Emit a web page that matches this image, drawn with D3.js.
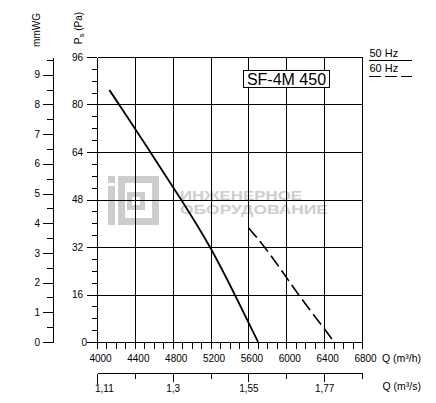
<!DOCTYPE html>
<html>
<head>
<meta charset="utf-8">
<script src="https://cdn.jsdelivr.net/npm/d3@7"></script>
<style>
  body { margin: 0; background: #fff; }
  text { font-family: "Liberation Sans", Arial, sans-serif; fill: #000; }
</style>
</head>
<body>
<script>
// ---- data ----
var flowTicks = [4000, 4400, 4800, 5200, 5600, 6000, 6400, 6800];   // m3/h
var flowMinor = d3.range(4000, 6801, 100);
var flowSecLabels = ["1,11", "", "1,3", "", "1,55", "", "1,77", ""]; // m3/s
var psTicks = [0, 16, 32, 48, 64, 80, 96];
var psMinor = d3.range(0, 97, 4);
var mmTicks = d3.range(0, 10, 1);
var mmMinor = d3.range(0.5, 9.6, 0.5);

var q50 = [4130, 4234, 4563, 4890, 5203, 5456, 5702];
var ps50 = [84.9, 80, 64, 48, 32, 16, 0];
var q60 = [5600, 5775, 5975, 6125, 6390, 6505];
var ps60 = [38.5, 32, 23, 16, 5, 0];

var title = "SF-4M 450";

var width = 436, height = 403;
var pLeft = 97, pRight = 362, pTop = 57, pBottom = 342;

var x = d3.scaleLinear().domain([4000, 6800]).range([pLeft, pRight]);
var y = d3.scaleLinear().domain([0, 96]).range([pBottom, pTop]);
var ymm = d3.scaleLinear().domain([0, 9.6]).range([pBottom, pTop]);

// snap to pixel centre for 1px lines
function px(v) { return Math.round(v) + 0.5; }

var svg = d3.select("body").append("svg")
    .attr("width", width)
    .attr("height", height);

svg.append("rect").attr("width", width).attr("height", height).attr("fill", "#fff");

// watermark logo
var wm = svg.append("g").attr("fill", "#cdcdcd");
wm.append("rect").attr("x", 108).attr("y", 176).attr("width", 7).attr("height", 7);
wm.append("rect").attr("x", 108).attr("y", 186).attr("width", 7).attr("height", 39);
wm.append("rect").attr("x", 121.5).attr("y", 179.5).attr("width", 34).attr("height", 42)
    .attr("fill", "none").attr("stroke", "#cdcdcd").attr("stroke-width", 7);
wm.append("rect").attr("x", 129.5).attr("y", 194.5).attr("width", 13).attr("height", 13)
    .attr("fill", "none").attr("stroke", "#cdcdcd").attr("stroke-width", 5);
wm.append("text").attr("x", 180).attr("y", 199.5)
    .attr("font-family", "DejaVu Sans").attr("font-weight", "bold").attr("font-size", 13.5)
    .attr("textLength", 122).attr("lengthAdjust", "spacingAndGlyphs")
    .style("fill", "#cdcdcd").text("ИНЖЕНЕРНОЕ");
wm.append("text").attr("x", 180).attr("y", 213.5)
    .attr("font-family", "DejaVu Sans").attr("font-weight", "bold").attr("font-size", 13.5)
    .attr("textLength", 148).attr("lengthAdjust", "spacingAndGlyphs")
    .style("fill", "#cdcdcd").text("ОБОРУДОВАНИЕ");

// grid
var grid = svg.append("g").attr("stroke", "#000").attr("stroke-width", 1).attr("shape-rendering", "crispEdges");
grid.selectAll(".vg").data(flowTicks).enter().append("line")
    .attr("x1", function(d) { return px(x(d)); }).attr("x2", function(d) { return px(x(d)); })
    .attr("y1", px(pTop)).attr("y2", px(pBottom));
grid.selectAll(".hg").data(psTicks).enter().append("line")
    .attr("x1", px(pLeft)).attr("x2", px(pRight))
    .attr("y1", function(d) { return px(y(d)); }).attr("y2", function(d) { return px(y(d)); });

// Ps axis (ticks outside, pointing left)
var psAxis = svg.append("g").attr("stroke", "#000").attr("shape-rendering", "crispEdges");
psAxis.selectAll(".mn").data(psMinor).enter().append("line")
    .attr("x1", pLeft - 5).attr("x2", pLeft)
    .attr("y1", function(d) { return px(y(d)); }).attr("y2", function(d) { return px(y(d)); });
psAxis.selectAll(".mj").data(psTicks).enter().append("line")
    .attr("x1", pLeft - 10).attr("x2", pLeft)
    .attr("y1", function(d) { return px(y(d)); }).attr("y2", function(d) { return px(y(d)); });
svg.selectAll(".psl").data(psTicks).enter().append("text")
    .attr("x", function(d) { return d === 0 ? 87 : 83; })
    .attr("y", function(d) { return y(d) + 3.6; })
    .attr("text-anchor", "end").attr("font-size", 10)
    .text(function(d) { return d; });

// mmWG axis
var mmAxis = svg.append("g").attr("stroke", "#000").attr("shape-rendering", "crispEdges");
mmAxis.append("line").attr("x1", 53.5).attr("x2", 53.5).attr("y1", px(ymm(0))).attr("y2", px(ymm(9.6)));
mmAxis.selectAll(".mn").data(mmMinor).enter().append("line")
    .attr("x1", 47).attr("x2", 53)
    .attr("y1", function(d) { return px(ymm(d)); }).attr("y2", function(d) { return px(ymm(d)); });
mmAxis.selectAll(".mj").data(mmTicks).enter().append("line")
    .attr("x1", 43).attr("x2", 53)
    .attr("y1", function(d) { return px(ymm(d)); }).attr("y2", function(d) { return px(ymm(d)); });
svg.selectAll(".mml").data(mmTicks).enter().append("text")
    .attr("x", 40).attr("y", function(d) { return ymm(d) + 3.6; })
    .attr("text-anchor", "end").attr("font-size", 10)
    .text(function(d) { return d; });

// bottom Q (m3/h) ticks
var qAxis = svg.append("g").attr("stroke", "#000").attr("shape-rendering", "crispEdges");
qAxis.selectAll("line").data(flowMinor).enter().append("line")
    .attr("x1", function(d) { return px(x(d)); }).attr("x2", function(d) { return px(x(d)); })
    .attr("y1", pBottom).attr("y2", pBottom + 7);
svg.selectAll(".ql").data(flowTicks).enter().append("text")
    .attr("x", function(d) { return x(d) + 3.5; }).attr("y", 361.5)
    .attr("text-anchor", "middle").attr("font-size", 10)
    .text(function(d) { return d; });
svg.append("text").attr("x", 421).attr("y", 361.5).attr("text-anchor", "end")
    .attr("font-size", 10.5).text("Q (m³/h)");

// second Q (m3/s) axis
var sAxis = svg.append("g").attr("stroke", "#000").attr("shape-rendering", "crispEdges");
sAxis.append("line").attr("x1", px(pLeft)).attr("x2", px(pRight)).attr("y1", 373.5).attr("y2", 373.5);
sAxis.selectAll(".st").data(flowTicks).enter().append("line")
    .attr("x1", function(d) { return px(x(d)); }).attr("x2", function(d) { return px(x(d)); })
    .attr("y1", 373.5).attr("y2", function(d, i) { return 373.5 + (i === 0 ? 10 : flowSecLabels[i] ? 8 : 5); });
svg.selectAll(".sl").data(flowTicks).enter().append("text")
    .attr("x", function(d, i) { return i === 0 ? x(d) - 2 : x(d) + 0.5; })
    .attr("y", 391.5)
    .attr("text-anchor", function(d, i) { return i === 0 ? "start" : "middle"; })
    .attr("font-size", 10)
    .text(function(d, i) { return flowSecLabels[i]; });
svg.append("text").attr("x", 421).attr("y", 390).attr("text-anchor", "end")
    .attr("font-size", 10.5).text("Q (m³/s)");

// rotated axis titles
svg.append("text").attr("transform", "translate(40,30) rotate(-90)")
    .attr("text-anchor", "middle").attr("font-size", 10).text("mmWG");
var pst = svg.append("text").attr("transform", "translate(82,28) rotate(-90)")
    .attr("text-anchor", "middle").attr("font-size", 10);
pst.append("tspan").text("P");
pst.append("tspan").attr("font-size", 8).attr("dy", 1.5).text("s");
pst.append("tspan").attr("dy", -1.5).text(" (Pa)");

// curves
var line = d3.line()
    .x(function(d) { return x(d[0]); })
    .y(function(d) { return y(d[1]); })
    .curve(d3.curveBasis);

svg.append("path").datum(d3.zip(q50, ps50))
    .attr("d", line).attr("fill", "none").attr("stroke", "#000").attr("stroke-width", 1.8);
svg.append("path").datum(d3.zip(q60, ps60))
    .attr("d", line).attr("fill", "none").attr("stroke", "#000").attr("stroke-width", 1.6)
    .attr("stroke-dasharray", "13,5");

// title box
svg.append("rect").attr("x", 243.5).attr("y", 70.5).attr("width", 86).attr("height", 17)
    .attr("fill", "#fff").attr("stroke", "#000").attr("stroke-width", 1);
svg.append("text").attr("x", 286.5).attr("y", 85).attr("text-anchor", "middle")
    .attr("font-size", 16).text(title);

// legend
svg.append("text").attr("x", 369.5).attr("y", 56.5).attr("font-size", 11).text("50 Hz");
svg.append("line").attr("x1", 369).attr("x2", 412).attr("y1", 60.5).attr("y2", 60.5)
    .attr("stroke", "#000").attr("stroke-width", 1.2);
svg.append("text").attr("x", 369.5).attr("y", 71.5).attr("font-size", 11).text("60 Hz");
svg.append("line").attr("x1", 369).attr("x2", 412).attr("y1", 76.5).attr("y2", 76.5)
    .attr("stroke", "#000").attr("stroke-width", 1.2).attr("stroke-dasharray", "12,4");
</script>
</body>
</html>
